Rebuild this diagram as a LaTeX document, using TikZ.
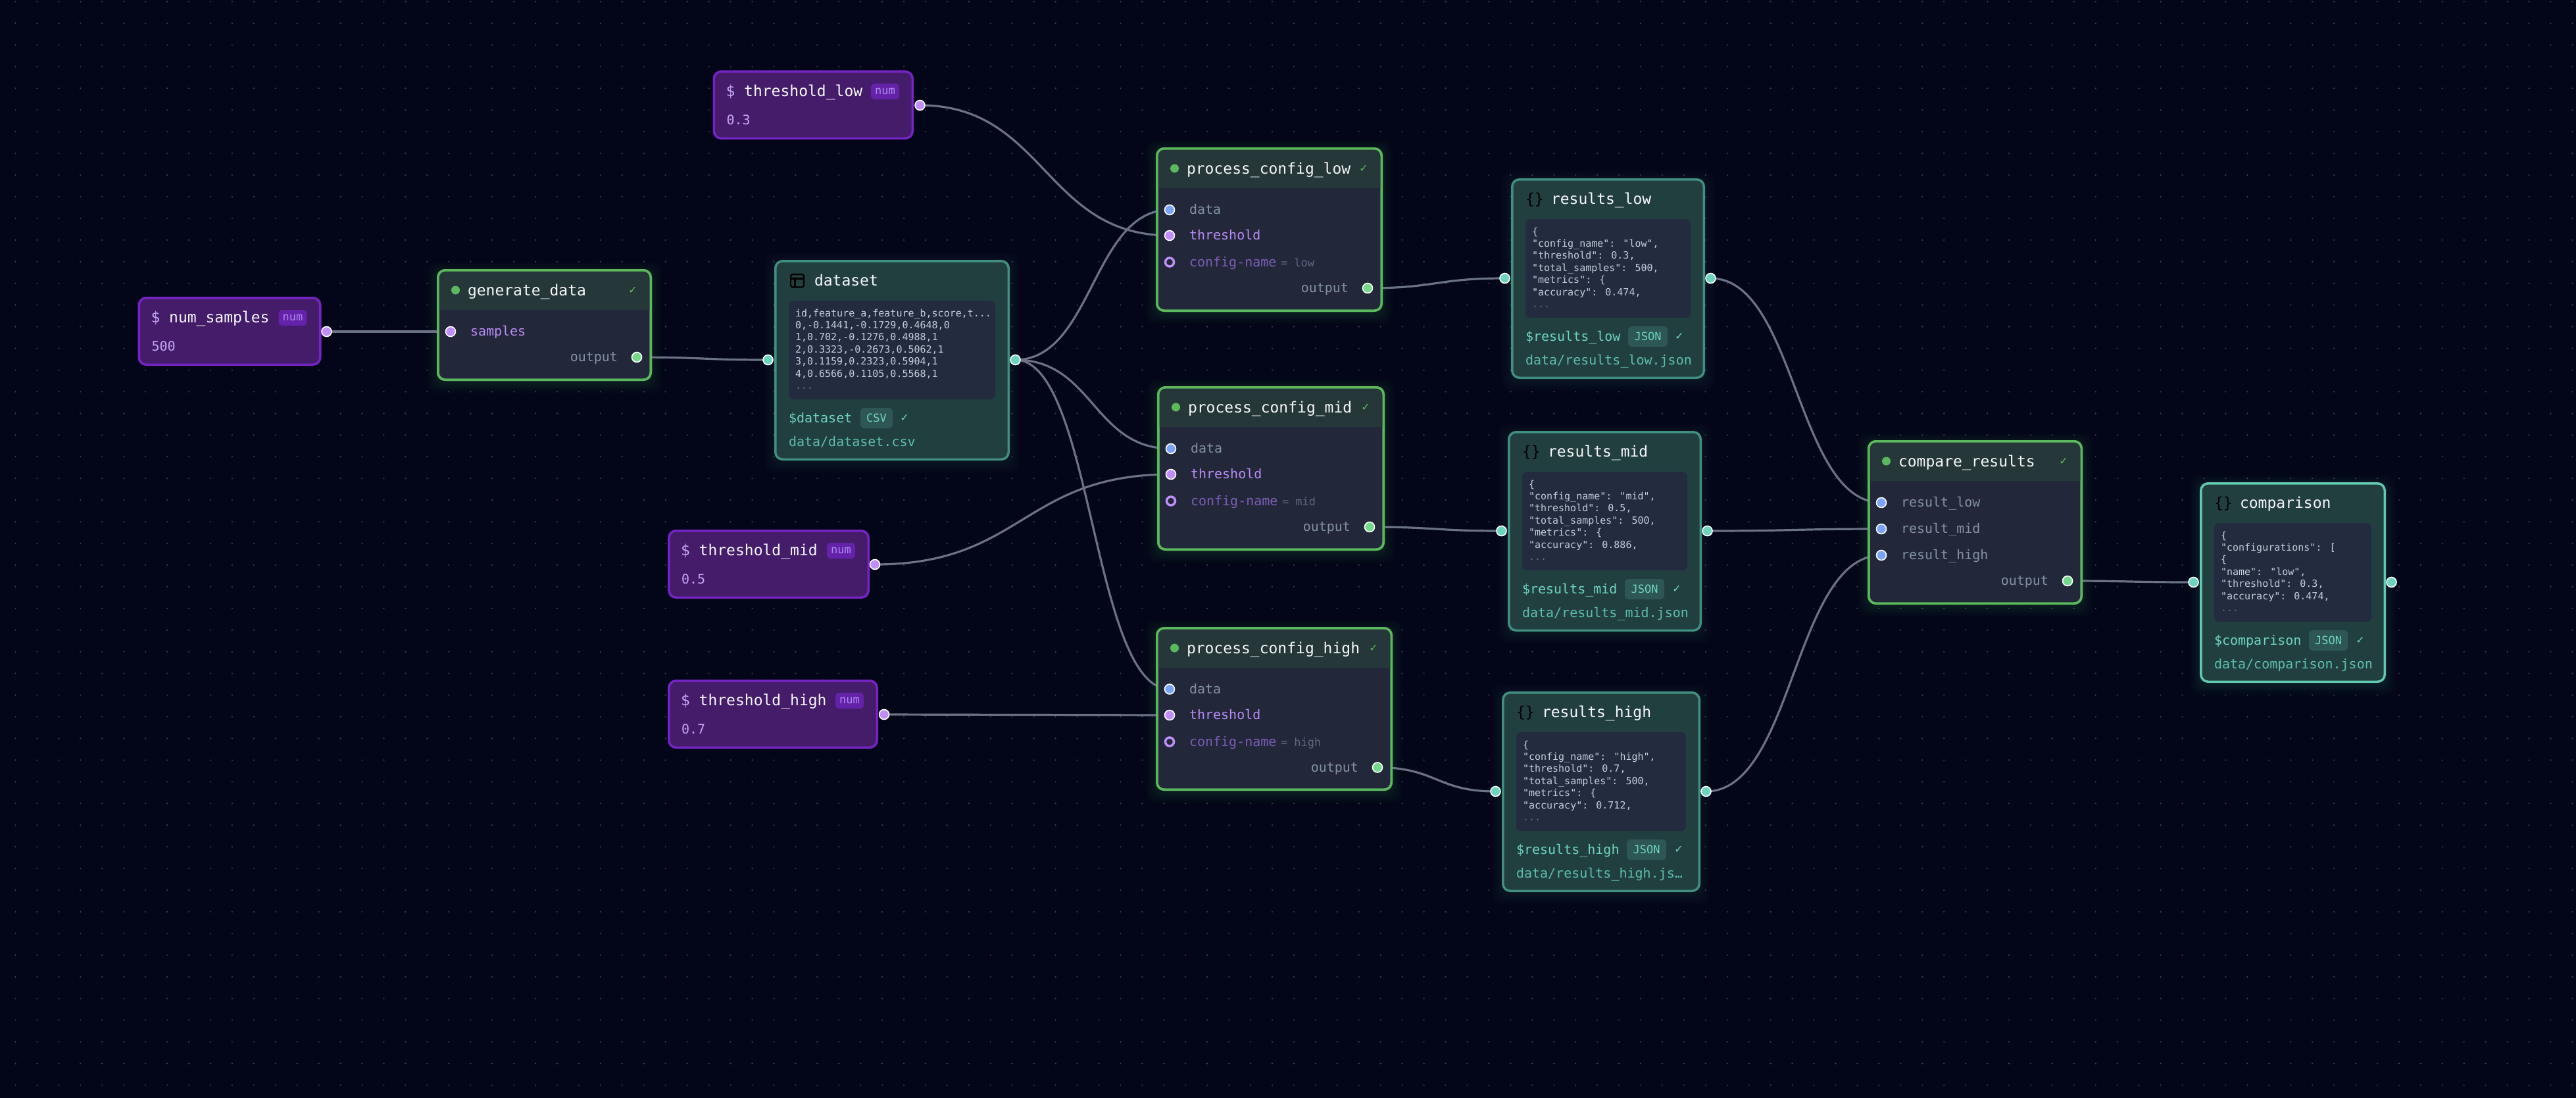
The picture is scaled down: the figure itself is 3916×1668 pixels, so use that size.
\documentclass[tikz,border=0pt]{standalone}
\usepackage{fontspec}
\usetikzlibrary{calc}
\newfontfamily\mono{DejaVu Sans Mono}
\newfontfamily\dejasans{DejaVu Sans}
\newcommand\threedots{...}
\definecolor{pagebg}{HTML}{030618}
\definecolor{griddot}{HTML}{3C4152}
\definecolor{wire}{HTML}{6B7285}
\definecolor{tskstroke}{HTML}{5CB85C}
\definecolor{tskhead}{HTML}{26373A}
\definecolor{tskbody}{HTML}{22283A}
\definecolor{datfill}{HTML}{223F3F}
\definecolor{datstroke}{HTML}{418F80}
\definecolor{datbright}{HTML}{62C8B0}
\definecolor{codefill}{HTML}{232C3F}
\definecolor{codetext}{HTML}{C5CDDD}
\definecolor{codedim}{HTML}{687085}
\definecolor{tealtext}{HTML}{6DD5BD}
\definecolor{tealpath}{HTML}{5CBFA9}
\definecolor{tealchip}{HTML}{2D5654}
\definecolor{parfill}{HTML}{451C6A}
\definecolor{parstroke}{HTML}{7524C4}
\definecolor{parchip}{HTML}{6322A8}
\definecolor{parchiptext}{HTML}{B088F0}
\definecolor{partext}{HTML}{C4A7F7}
\definecolor{titletext}{HTML}{F5F7FA}
\definecolor{portblue}{HTML}{7BA4F8}
\definecolor{portpurple}{HTML}{C08EF8}
\definecolor{portgreen}{HTML}{74D98A}
\definecolor{labelgrey}{HTML}{8390A6}
\definecolor{labelpurple}{HTML}{B98CF5}
\definecolor{labeldim}{HTML}{7A5DB5}
\definecolor{valdim}{HTML}{5F6680}
\pgfdeclarelayer{under}
\pgfdeclarelayer{wires}
\pgfsetlayers{under,wires,main}
\tikzset{
  txt/.style={anchor=base west,inner sep=0pt,outer sep=0pt},
  txtr/.style={anchor=base east,inner sep=0pt,outer sep=0pt},
  fbig/.style={font=\mono\fontsize{23}{27}\selectfont},
  fmid/.style={font=\mono\fontsize{20}{24}\selectfont},
  fchip/.style={font=\mono\fontsize{17}{20}\selectfont},
  fcode/.style={font=\mono\fontsize{15}{18}\selectfont},
  fcheck/.style={font=\dejasans\fontsize{16}{18}\selectfont},
  port/.style={circle,inner sep=0pt,outer sep=0pt,minimum size=15pt,draw=white,line width=1.6pt},
  wirepath/.style={draw=wire,line width=3.2pt},
  plate/.style={rectangle,inner sep=0pt,outer sep=0pt,rounded corners=11pt},
  chipbox/.style={rectangle,inner sep=0pt,outer sep=0pt,rounded corners=6pt},
}
% connector between two named ports
\newcommand\wire[2]{\begin{pgfonlayer}{wires}\draw[wirepath] let \p1=(#1.center),\p2=(#2.center),\n1={0.5*(\x2-\x1)} in (\p1) .. controls +(\n1,0) and +(-\n1,0) .. (\p2);\end{pgfonlayer}}
% soft glow: width height colour
\newcommand\softglow[3]{\begin{pgfonlayer}{under}\foreach \g in {1,3,5,7,9,12,15}{\fill[#3,opacity=0.02,rounded corners=14pt] (-\g,-\g+4) rectangle (#1+\g,#2+\g+4);}\end{pgfonlayer}}
% frame: id w h fill stroke
\newcommand\plain[5]{\node[plate,fill=#4,draw=#5,line width=3.5pt,minimum width=#2pt-3.5pt,minimum height=#3pt-3.5pt] (#1) at (#2/2,#3/2) {};}
% parameter node: id l t w title value portdx
\newcommand\paramnode[7]{\begin{scope}[shift={(#2,#3)}]
  \plain{#1}{#4}{105}{parfill}{parstroke}
  \node[txt,fbig,text=titletext] (#1-name) at (20,39.5) {\textcolor{partext}{\$} #5};
  \node[chipbox,fill=parchip,minimum width=43pt,minimum height=24pt] (#1-chip) at (#4-43.5,32) {};
  \node[inner sep=0pt,fchip,text=parchiptext] (#1-chiptext) at (#4-43.5,32) {num};
  \node[txt,fmid,text=partext] (#1-value) at (21,82) {#6};
  \node[port,fill=portpurple] (#1-out) at (#4+#7,53) {};
\end{scope}}
% task node: id l t w h title
\newcommand\tasknode[6]{\begin{scope}[shift={(#2,#3)}]
  \softglow{#4}{#5}{tskstroke}
  \plain{#1}{#4}{#5}{tskbody}{tskstroke}
  \fill[tskhead] (1.75,62) {[rounded corners=11pt] -- (1.75,1.75) -- (#4-1.75,1.75)} -- (#4-1.75,62) -- cycle;
  \draw[tskstroke,line width=3.5pt,rounded corners=11pt] (1.75,1.75) rectangle (#4-1.75,#5-1.75);
  \node[circle,fill=tskstroke,inner sep=0pt,minimum size=13pt] (#1-dot) at (28.5,32) {};
  \node[txt,fbig,text=titletext] (#1-name) at (47,40) {#6};
  \node[inner sep=0pt,fcheck,text=tskstroke] (#1-check) at (#4-29,32) {✓};
\end{scope}}
% task input row: id key l t dy dotcolor textcolor label
\newcommand\inrow[8]{\begin{scope}[shift={(#3,#4)}]
  \node[port,fill=#6] (#1-#2) at (21,#5) {};
  \node[txt,fmid,text=#7] (#1-#2-label) at (51,#5+6.5) {#8};
\end{scope}}
% option row with hollow port: id l t dy value
\newcommand\optrow[5]{\begin{scope}[shift={(#2,#3)}]
  \node[circle,inner sep=0pt,minimum size=13pt,fill=tskbody,draw=portpurple,line width=3.5pt] (#1-opt) at (21,#4) {};
  \node[txt,fmid,text=labeldim] (#1-opt-label) at (51,#4+6.5) {config-name};
  \node[txt,fchip,text=valdim] (#1-opt-value) at (190,#4+6.5) {= #5};
\end{scope}}
% output row: id l t w dy
\newcommand\outrow[5]{\begin{scope}[shift={(#2,#3)}]
  \node[port,fill=portgreen] (#1-out) at (#4-23,#5) {};
  \node[txtr,fmid,text=labelgrey] (#1-out-label) at (#4-52,#5+6.5) {output};
\end{scope}}
% data node: id l t w strokecolor title var chip chipdx chipw checkdx path
\newcommand\datanode[9]{\def\dnid{#1}\def\dnl{#2}\def\dnt{#3}\def\dnw{#4}\def\dnc{#5}\def\dntitle{#6}\def\dnvar{#7}\def\dnchip{#8}\def\dnchipx{#9}\datanodeB}
\newcommand\datanodeB[4]{\begin{scope}[shift={(\dnl,\dnt)}]
  \softglow{\dnw}{305}{\dnc}
  \plain{\dnid}{\dnw}{305}{datfill}{\dnc}
  \node[txt,fbig,text=titletext] (\dnid-name) at (61,39.5) {\dntitle};
  \node[chipbox,anchor=north west,fill=codefill,rounded corners=7pt,minimum width=\dnw pt-44pt,minimum height=150pt] (\dnid-code) at (22,62) {};
  \node[txt,fmid,text=tealtext] (\dnid-var) at (22,247) {\dnvar};
  \node[chipbox,fill=tealchip,minimum width=#1pt,minimum height=31pt] (\dnid-chip) at (\dnchipx+#1/2,240.5) {};
  \node[inner sep=0pt,fchip,text=tealtext] (\dnid-chiptext) at (\dnchipx+#1/2,240.5) {\dnchip};
  \node[inner sep=0pt,fcheck,text=tealtext] (\dnid-check) at (#2,240) {✓};
  \node[txt,fmid,text=tealpath] (\dnid-path) at (22,283) {#3};
  \foreach \ln [count=\i from 0] in {#4}{
    \node[txt,fcode,text=codetext] (\dnid-line\i) at (32,86+\i*18.4) {\ln};
  }
  \node[txt,fcode,text=codedim] (\dnid-more) at (32,86+6*18.4) {\threedots};
  \node[port,fill=tealtext] (\dnid-in) at (-9.5,152) {};
  \node[port,fill=tealtext] (\dnid-out) at (\dnw+8.5,152) {};
\end{scope}}
\begin{document}
\begin{tikzpicture}[x=1pt,y=-1pt]
\useasboundingbox (0,0) rectangle (3916,1668);
\begin{pgfonlayer}{under}
\fill[pagebg] (-3,-3) rectangle (3919,1671);
\foreach \cy in {0,...,50}{
  \draw[griddot,line width=2.4pt,line cap=round,dash pattern=on 0pt off 32.94pt] (23.5,{2.5+\cy*32.94}) -- (3916,{2.5+\cy*32.94});
}
\end{pgfonlayer}

% parameter nodes
\paramnode{numsamples}{209.5}{451}{279}{num\_samples}{500}{8}
\paramnode{thlow}{1083.5}{107}{305.5}{threshold\_low}{0.3}{9.5}
\paramnode{thmid}{1015}{805}{307}{threshold\_mid}{0.5}{8}
\paramnode{thhigh}{1015}{1033}{320}{threshold\_high}{0.7}{9}

% task nodes
\tasknode{gen}{664}{409}{327}{170}{generate\_data}
\inrow{gen}{samples}{664}{409}{95}{portpurple}{labelpurple}{samples}
\outrow{gen}{664}{409}{327}{134}

\tasknode{pcl}{1757}{224}{345}{250}{process\_config\_low}
\inrow{pcl}{data}{1757}{224}{95}{portblue}{labelgrey}{data}
\inrow{pcl}{thr}{1757}{224}{134}{portpurple}{labelpurple}{threshold}
\optrow{pcl}{1757}{224}{174.5}{low}
\outrow{pcl}{1757}{224}{345}{214}

\tasknode{pcm}{1759}{587}{346}{250}{process\_config\_mid}
\inrow{pcm}{data}{1759}{587}{95}{portblue}{labelgrey}{data}
\inrow{pcm}{thr}{1759}{587}{134}{portpurple}{labelpurple}{threshold}
\optrow{pcm}{1759}{587}{174.5}{mid}
\outrow{pcm}{1759}{587}{346}{214}

\tasknode{pch}{1757}{953}{360}{249}{process\_config\_high}
\inrow{pch}{data}{1757}{953}{94.5}{portblue}{labelgrey}{data}
\inrow{pch}{thr}{1757}{953}{134}{portpurple}{labelpurple}{threshold}
\optrow{pch}{1757}{953}{174.5}{high}
\outrow{pch}{1757}{953}{360}{213.5}

\tasknode{cmp}{2839}{669}{327}{250}{compare\_results}
\inrow{cmp}{low}{2839}{669}{95}{portblue}{labelgrey}{result\_low}
\inrow{cmp}{mid}{2839}{669}{135}{portblue}{labelgrey}{result\_mid}
\inrow{cmp}{high}{2839}{669}{175}{portblue}{labelgrey}{result\_high}
\outrow{cmp}{2839}{669}{327}{214}

% data nodes
\datanode{dataset}{1177}{395}{358}{datstroke}{dataset}{\$dataset}{CSV}{131}{49}{198}{data/dataset.csv}{{id,feature\_a,feature\_b,score,t\threedots},{0,-0.1441,-0.1729,0.4648,0},{1,0.702,-0.1276,0.4988,1},{2,0.3323,-0.2673,0.5062,1},{3,0.1159,0.2323,0.5904,1},{4,0.6566,0.1105,0.5568,1}}
\datanode{rlow}{2297}{271}{295}{datstroke}{results\_low}{\$results\_low}{JSON}{178}{60}{256}{data/results\_low.json}{{\{},{"config\_name": "low",},{"threshold": 0.3,},{"total\_samples": 500,},{"metrics": \{},{"accuracy": 0.474,}}
\datanode{rmid}{2292}{655}{295}{datstroke}{results\_mid}{\$results\_mid}{JSON}{178}{60}{257}{data/results\_mid.json}{{\{},{"config\_name": "mid",},{"threshold": 0.5,},{"total\_samples": 500,},{"metrics": \{},{"accuracy": 0.886,}}
\datanode{rhigh}{2283}{1051}{302}{datstroke}{results\_high}{\$results\_high}{JSON}{190}{60}{269}{data/results\_high.js…}{{\{},{"config\_name": "high",},{"threshold": 0.7,},{"total\_samples": 500,},{"metrics": \{},{"accuracy": 0.712,}}
\datanode{comparison}{3344}{733}{283}{datbright}{comparison}{\$comparison}{JSON}{166}{59}{244}{data/comparison.json}{{\{},{"configurations": [},{\{},{"name": "low",},{"threshold": 0.3,},{"accuracy": 0.474,}}

% type icons
\foreach \who/\ix/\iy in {rlow/2319/310,rmid/2314/694.5,rhigh/2305/1090.5,comparison/3366/772.5}{
  \node[txt,fbig,text=black] (icon-\who) at (\ix,\iy) {\{\}};
}
\draw[black,line width=2.2pt,rounded corners=3pt] (1202,417) rectangle (1222,436.5);
\draw[black,line width=2.2pt] (1202,423.5) -- (1222,423.5) (1208.5,423.5) -- (1208.5,436.5);

% connectors
\wire{numsamples-out}{gen-samples}
\wire{gen-out}{dataset-in}
\wire{thlow-out}{pcl-thr}
\wire{dataset-out}{pcl-data}
\wire{dataset-out}{pcm-data}
\wire{dataset-out}{pch-data}
\wire{thmid-out}{pcm-thr}
\wire{thhigh-out}{pch-thr}
\wire{pcl-out}{rlow-in}
\wire{pcm-out}{rmid-in}
\wire{pch-out}{rhigh-in}
\wire{rlow-out}{cmp-low}
\wire{rmid-out}{cmp-mid}
\wire{rhigh-out}{cmp-high}
\wire{cmp-out}{comparison-in}
\end{tikzpicture}
\end{document}
